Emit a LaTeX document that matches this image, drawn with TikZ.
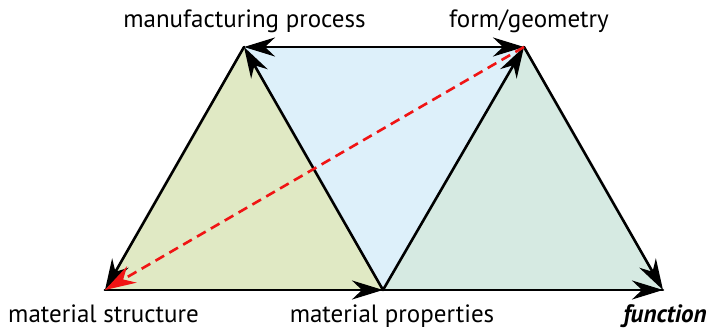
\documentclass[tikz,border=0pt]{standalone}
\usepackage{fontspec}
\setmainfont{PT Sans}
\usetikzlibrary{arrows.meta}
\definecolor{fgreen}{RGB}{224,233,196}
\definecolor{fblue}{RGB}{221,240,250}
\definecolor{fteal}{RGB}{214,234,226}
\definecolor{ared}{RGB}{240,20,20}
\tikzset{bigtip/.tip={Stealth[length=31pt,width=19pt,inset=10pt]}}
\begin{document}
\begin{tikzpicture}[x=1pt,y=-1pt,
  edge/.style={line width=2.6pt, line cap=round, line join=round},
  tip/.style={-bigtip},
  lbl/.style={font=\fontsize{25}{28}\selectfont, anchor=base, inner sep=0pt}]
\useasboundingbox (0,0) rectangle (712,331);
\coordinate (MS) at (105,290);
\coordinate (MP) at (383,290);
\coordinate (FN) at (663,290);
\coordinate (MF) at (244,47);
\coordinate (FG) at (524,47);
\fill[fgreen] (MS) -- (MP) -- (MF) -- cycle;
\fill[fblue] (MF) -- (FG) -- (MP) -- cycle;
\fill[fteal] (MP) -- (FN) -- (FG) -- cycle;
\draw[edge] (MS) -- (MP) -- (FN);
\draw[edge, tip] (MS) -- (MP);
\draw[edge, tip] (MP) -- (FN);
\draw[edge, tip] (MP) -- (MF);
\draw[edge, tip] (MF) -- (MS);
\draw[edge, tip] (MP) -- (FG);
\draw[edge, tip] (FG) -- (FN);
\draw[edge, bigtip-bigtip] (MF) -- (FG);
\draw[line width=2.6pt, ared, dash pattern=on 10pt off 6pt, -bigtip] (FG) -- (MS);
\node[lbl] (tMF) at (244.5,28) {manufacturing process};
\node[lbl] (tFG) at (529,28) {form/geometry};
\node[lbl] (tMS) at (103.5,322) {material structure};
\node[lbl] (tMP) at (392,322) {material properties};
\node[lbl] (tFN) at (665,322) {\bfseries\itshape function};
\end{tikzpicture}
\end{document}
